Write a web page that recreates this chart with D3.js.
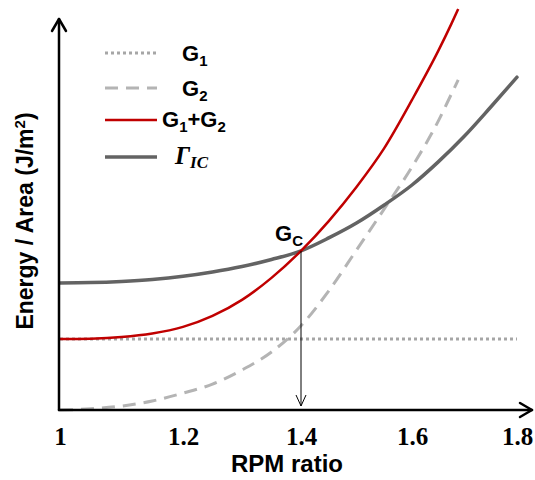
<!DOCTYPE html>
<html>
<head>
<meta charset="utf-8">
<script src="https://cdn.jsdelivr.net/npm/d3@7/dist/d3.min.js"></script>
<style>
  html, body { margin: 0; padding: 0; background: #fff; }
  svg { display: block; }
</style>
</head>
<body>
<svg id="chart" width="535" height="480"></svg>
<script>
// RPM ratio sample points
const rpm = [1.00, 1.05, 1.10, 1.15, 1.20, 1.25, 1.30, 1.35, 1.40, 1.45, 1.50, 1.55, 1.60, 1.65, 1.70, 1.75, 1.80];
// Γ_IC (interfacial toughness), arbitrary energy/area units
const gammaIC = [32.4, 32.5, 32.8, 33.3, 34.1, 35.2, 36.6, 38.4, 40.6, 43.9, 47.7, 52.3, 57.4, 63.3, 69.9, 77.3, 84.9];

// G2 and G1+G2 stop before the right end of the axis
const rpmG2 = [1.00, 1.05, 1.10, 1.15, 1.20, 1.25, 1.30, 1.35, 1.40, 1.45, 1.50, 1.55, 1.60, 1.65, 1.675, 1.688];
const g2 = [0, 0.3, 1.0, 2.3, 4.3, 6.6, 10.2, 14.8, 21.5, 30.4, 40.8, 51.3, 62.0, 73.7, 80.6, 84.2];
const g1g2 = [18.1, 18.2, 18.6, 19.5, 21.2, 24.0, 28.1, 33.7, 40.6, 48.2, 56.9, 66.8, 79.1, 91.6, 98.5, 102.3];

// G1 is constant across the range
const rpmG1 = [1.0, 1.8];
const g1 = [18.1, 18.1];

// critical point
const gcX = 1.4, gcY = 40.6;

const xTicks = [1, 1.2, 1.4, 1.6, 1.8];

const svg = d3.select("#chart");

const x = d3.scaleLinear().domain(xTicks).range([60, 183, 301, 412, 517]);
const y = d3.scaleLinear().domain([0, 100]).range([410, 18]);

const line = d3.line()
  .x(d => x(d[0]))
  .y(d => y(d[1]))
  .curve(d3.curveMonotoneX);

// curves
svg.append("path")
  .datum(rpmG1.map((r, i) => [r, g1[i]]))
  .attr("d", line).attr("fill", "none")
  .attr("stroke", "#a6a6a6").attr("stroke-width", 3)
  .attr("stroke-dasharray", "3,3");

svg.append("path")
  .datum(rpmG2.map((r, i) => [r, g2[i]]))
  .attr("d", line).attr("fill", "none")
  .attr("stroke", "#b4b4b4").attr("stroke-width", 3)
  .attr("stroke-dasharray", "13,8");

svg.append("path")
  .datum(rpm.map((r, i) => [r, gammaIC[i]]))
  .attr("d", line).attr("fill", "none")
  .attr("stroke", "#636363").attr("stroke-width", 3.5)
  .attr("stroke-linecap", "round");

svg.append("path")
  .datum(rpmG2.map((r, i) => [r, g1g2[i]]))
  .attr("d", line).attr("fill", "none")
  .attr("stroke", "#c00000").attr("stroke-width", 2.5);

// axes with arrowheads
const axisG = svg.append("g").attr("stroke", "#000").attr("fill", "none")
  .attr("stroke-width", 2.5).attr("stroke-linecap", "round").attr("stroke-linejoin", "round");
axisG.append("line").attr("x1", 59).attr("y1", y(0)).attr("x2", 59).attr("y2", 19);
axisG.append("path").attr("d", `M52,31 L59,19 L66,31`);
axisG.append("line").attr("x1", 59).attr("y1", y(0)).attr("x2", 532).attr("y2", y(0));
axisG.append("path").attr("d", `M520,${y(0) - 7} L532,${y(0)} L520,${y(0) + 7}`);

// drop line from the critical point to the x-axis
svg.append("line")
  .attr("x1", x(gcX)).attr("y1", y(gcY)).attr("x2", x(gcX)).attr("y2", y(0) - 4)
  .attr("stroke", "#000").attr("stroke-width", 1);
svg.append("path")
  .attr("d", `M${x(gcX) - 5},${y(0) - 15} L${x(gcX)},${y(0) - 4} L${x(gcX) + 5},${y(0) - 15}`)
  .attr("stroke", "#000").attr("stroke-width", 1).attr("fill", "none");

// x tick labels
const xAxis = d3.axisBottom(x).tickValues(xTicks).tickSize(0).tickPadding(0)
  .tickFormat(d => d === 1 ? "1" : d3.format(".1f")(d));
const gx = svg.append("g").attr("transform", "translate(0,445)").call(xAxis);
gx.select(".domain").remove();
gx.selectAll("text")
  .attr("y", 0).attr("dy", 0)
  .style("font-family", "'Liberation Serif', 'Times New Roman', serif")
  .style("font-weight", "bold").style("font-size", "25px").attr("fill", "#000");

const sans = "'Liberation Sans', Arial, sans-serif";

// axis titles
svg.append("text")
  .attr("x", 287).attr("y", 472).attr("text-anchor", "middle")
  .style("font-family", sans)
  .style("font-weight", "bold").style("font-size", "24px")
  .text("RPM ratio");

const yt = svg.append("text")
  .attr("transform", "translate(33,221) rotate(-90)")
  .attr("text-anchor", "middle")
  .style("font-family", sans)
  .style("font-weight", "bold").style("font-size", "23px");
yt.append("tspan").text("Energy / Area (J/m");
yt.append("tspan").attr("dy", -8).style("font-size", "15px").text("2");
yt.append("tspan").attr("dy", 8).text(")");

// G_C label
const gc = svg.append("text")
  .attr("x", 275).attr("y", 241)
  .style("font-family", sans)
  .style("font-weight", "bold").style("font-size", "22px");
gc.append("tspan").text("G");
gc.append("tspan").attr("dy", 5).style("font-size", "15px").text("C");

// legend
const legend = [
  { name: "G1", color: "#a6a6a6", dash: "3,3", w: 3, y: 53 },
  { name: "G2", color: "#b4b4b4", dash: "13,8", w: 3, y: 88 },
  { name: "G1+G2", color: "#c00000", dash: null, w: 2.5, y: 120 },
  { name: "GIC", color: "#636363", dash: null, w: 3.5, y: 157 }
];
const lg = svg.append("g");
legend.forEach(d => {
  lg.append("line")
    .attr("x1", 105).attr("x2", 157).attr("y1", d.y).attr("y2", d.y)
    .attr("stroke", d.color).attr("stroke-width", d.w)
    .attr("stroke-dasharray", d.dash);
});
function subText(xp, yp, parts) {
  const t = lg.append("text").attr("x", xp).attr("y", yp)
    .style("font-family", sans).style("font-weight", "bold").style("font-size", "22px");
  parts.forEach(p => {
    if (p.sub) {
      t.append("tspan").attr("dy", 5).style("font-size", "15px").text(p.t);
    } else {
      t.append("tspan").attr("dy", p.after ? -5 : 0).text(p.t);
    }
  });
  return t;
}
subText(182, 61, [{ t: "G" }, { t: "1", sub: true }]);
subText(182, 96, [{ t: "G" }, { t: "2", sub: true }]);
subText(162, 127, [{ t: "G" }, { t: "1", sub: true }, { t: "+G", after: true }, { t: "2", sub: true }]);
const gm = lg.append("text").attr("x", 175).attr("y", 164)
  .style("font-family", "'Liberation Serif', 'Times New Roman', serif")
  .style("font-style", "italic").style("font-weight", "bold").style("font-size", "25px");
gm.append("tspan").text("Γ");
gm.append("tspan").attr("dy", 4).style("font-size", "17px").text("IC");
</script>
</body>
</html>
